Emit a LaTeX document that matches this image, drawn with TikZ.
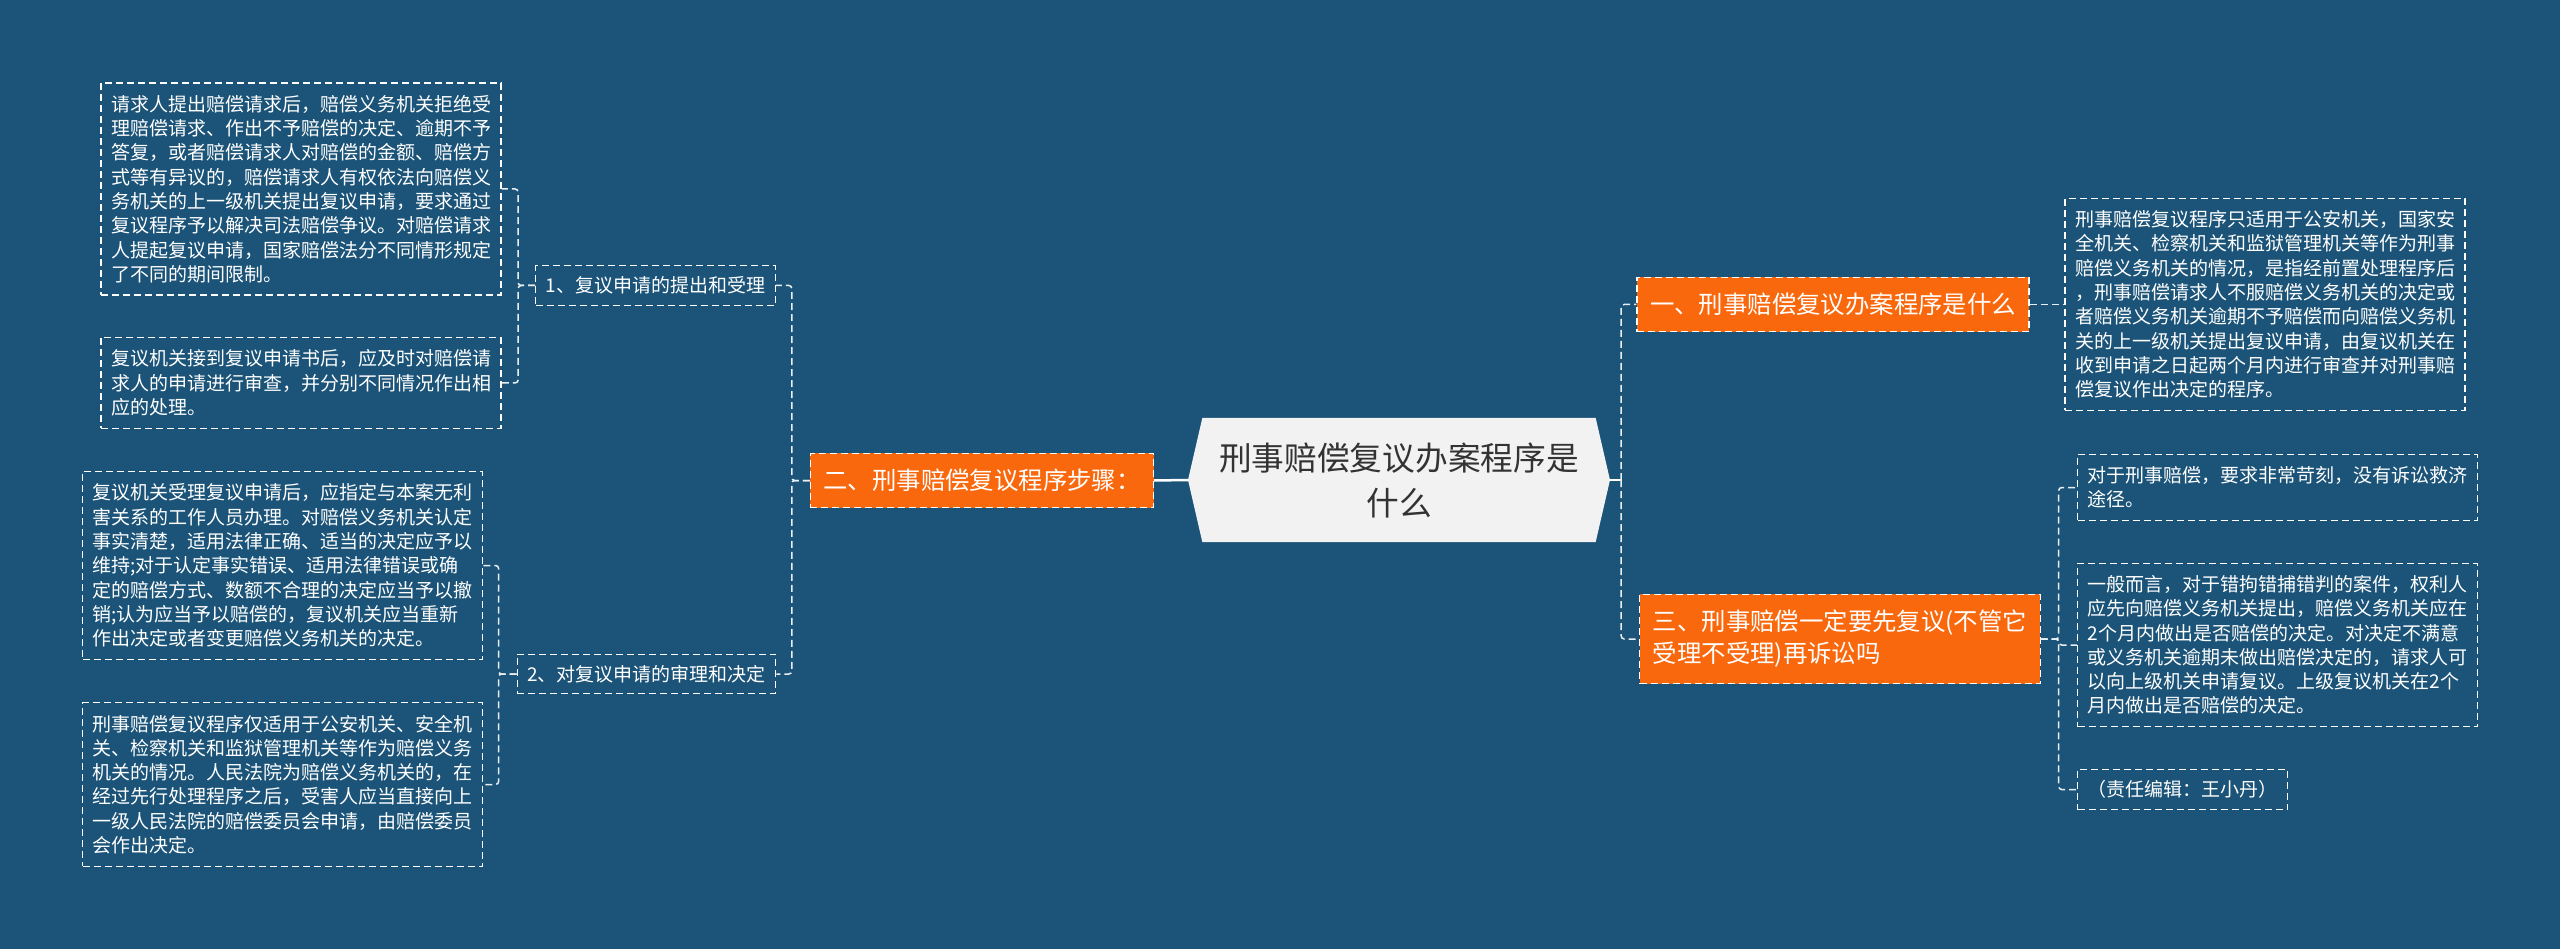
\documentclass[tikz,border=0pt]{standalone}
\usepackage{fontspec}
\setmainfont{Noto Sans CJK SC}
\usetikzlibrary{shapes.symbols}
\definecolor{bgblue}{HTML}{1B5478}
\definecolor{topicorange}{HTML}{F9680C}
\definecolor{rootgray}{HTML}{F2F2F2}

\begin{document}
\begin{tikzpicture}[x=1pt,y=-1pt,
  leaf/.style={draw=white, dash pattern=on 7pt off 4pt, line width=1.2pt, text=white, align=left,
    text width=380pt, inner xsep=10pt, inner ysep=12pt, font=\fontsize{19}{24.3}\selectfont},
  sub/.style={draw=white, dash pattern=on 7pt off 4pt, line width=1.2pt, text=white,
    inner xsep=10pt, inner ysep=11pt, font=\fontsize{19}{24}\selectfont},
  topic/.style={fill=topicorange, draw=white, dash pattern=on 7pt off 4pt, line width=1.2pt, text=white,
    align=left, inner xsep=13pt, inner ysep=16pt, font=\fontsize{24.4}{32}\selectfont},
  root/.style={shape=signal, signal to=east and west, signal pointer angle=154, fill=rootgray,
    text=black!80, align=center, minimum width=422pt, minimum height=124pt, font=\fontsize{32.7}{45}\selectfont},
  link/.style={draw=white!90!bgblue, dash pattern=on 7pt off 4pt, line width=1.5pt, rounded corners=3pt},
  rootlink/.style={draw=white, line width=2.5pt}]

\useasboundingbox[fill=bgblue] (0,0) rectangle (2560,949);

% centre
\node[root] (root) at (1399,480) {刑事赔偿复议办案程序是\\什么};

% left half
\node[topic] (steps) at (982,480.5) {二、刑事赔偿复议程序步骤：};
\node[sub] (s1) at (655.5,285.5) {1、复议申请的提出和受理};
\node[sub] (s2) at (646.5,674) {2、对复议申请的审理和决定};
\node[leaf] (reqA) at (301,189) {请求人提出赔偿请求后，赔偿义务机关拒绝受\\理赔偿请求、作出不予赔偿的决定、逾期不予\\答复，或者赔偿请求人对赔偿的金额、赔偿方\\式等有异议的，赔偿请求人有权依法向赔偿义\\务机关的上一级机关提出复议申请，要求通过\\复议程序予以解决司法赔偿争议。对赔偿请求\\人提起复议申请，国家赔偿法分不同情形规定\\了不同的期间限制。};
\node[leaf] (reqB) at (301,383) {复议机关接到复议申请书后，应及时对赔偿请\\求人的申请进行审查，并分别不同情况作出相\\应的处理。};
\node[leaf] (revC) at (282.5,565.5) {复议机关受理复议申请后，应指定与本案无利\\害关系的工作人员办理。对赔偿义务机关认定\\事实清楚，适用法律正确、适当的决定应予以\\维持;对于认定事实错误、适用法律错误或确\\定的赔偿方式、数额不合理的决定应当予以撤\\销;认为应当予以赔偿的，复议机关应当重新\\作出决定或者变更赔偿义务机关的决定。};
\node[leaf] (revD) at (282.5,784.5) {刑事赔偿复议程序仅适用于公安机关、安全机\\关、检察机关和监狱管理机关等作为赔偿义务\\机关的情况。人民法院为赔偿义务机关的，在\\经过先行处理程序之后，受害人应当直接向上\\一级人民法院的赔偿委员会申请，由赔偿委员\\会作出决定。};

\draw[rootlink] (root.west) -- (steps.east);
\foreach \c in {s1,s2} \draw[link] (steps.west) -- ++(-18,0) |- (\c.east);
\foreach \c in {reqA,reqB} \draw[link] (s1.west) -- ++(-17,0) |- (\c.east);
\foreach \c in {revC,revD} \draw[link] (s2.west) -- ++(-18,0) |- (\c.east);

% right half
\node[topic] (what) at (1833,304.5) {一、刑事赔偿复议办案程序是什么};
\node[topic] (must) at (1840,639) {三、刑事赔偿一定要先复议(不管它\\受理不受理)再诉讼吗};
\node[leaf] (whatE) at (2265,304.5) {刑事赔偿复议程序只适用于公安机关，国家安\\全机关、检察机关和监狱管理机关等作为刑事\\赔偿义务机关的情况，是指经前置处理程序后\\，刑事赔偿请求人不服赔偿义务机关的决定或\\者赔偿义务机关逾期不予赔偿而向赔偿义务机\\关的上一级机关提出复议申请，由复议机关在\\收到申请之日起两个月内进行审查并对刑事赔\\偿复议作出决定的程序。};
\node[leaf] (mustF) at (2277.5,487.5) {对于刑事赔偿，要求非常苛刻，没有诉讼救济\\途径。};
\node[leaf] (mustG) at (2277.5,645) {一般而言，对于错拘错捕错判的案件，权利人\\应先向赔偿义务机关提出，赔偿义务机关应在\\2个月内做出是否赔偿的决定。对决定不满意\\或义务机关逾期未做出赔偿决定的，请求人可\\以向上级机关申请复议。上级复议机关在2个\\月内做出是否赔偿的决定。};
\node[sub] (editor) at (2182.5,789.5) {（责任编辑：王小丹）};

\draw[rootlink] (root.east) -- ++(11,0) coordinate (rj);
\foreach \c in {what,must} \draw[link] (rj) |- (\c.west);
\draw[link] (what.east) -- (whatE.west);
\foreach \c in {mustF,mustG,editor} \draw[link] (must.east) -- ++(18,0) |- (\c.west);
\end{tikzpicture}
\end{document}
